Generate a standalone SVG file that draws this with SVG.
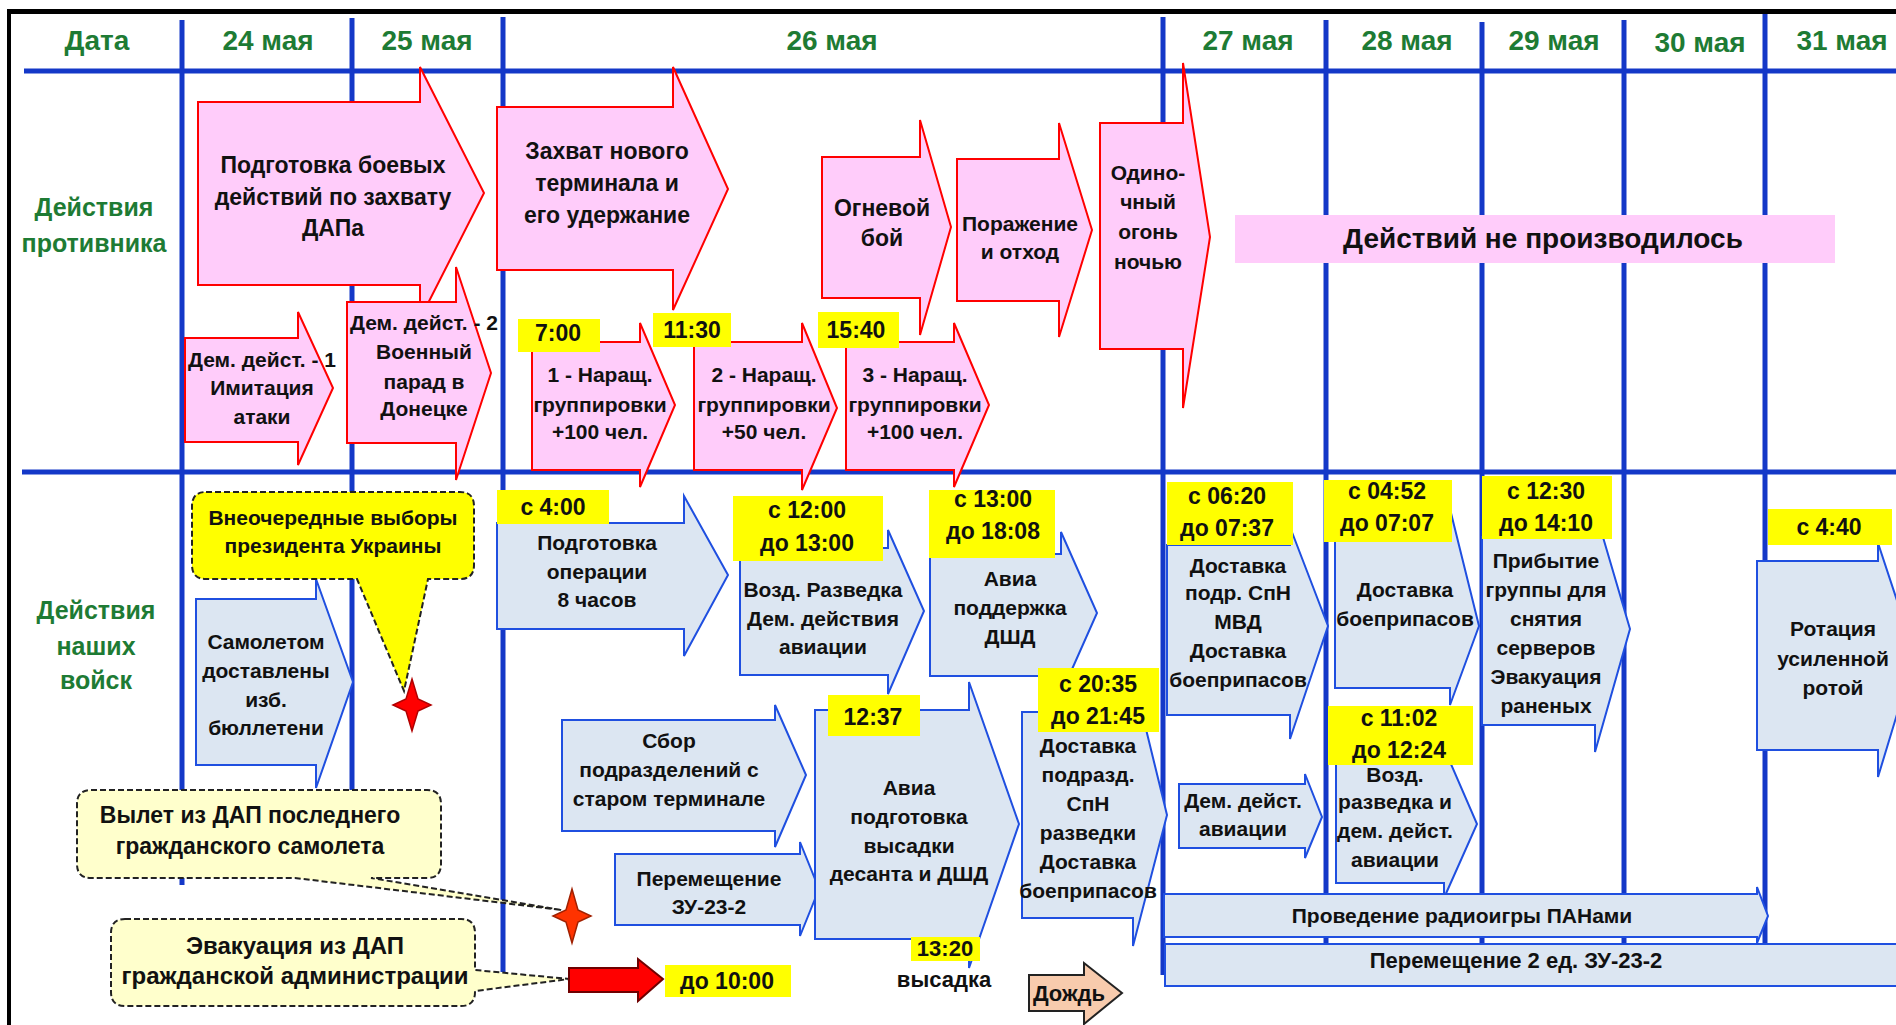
<svg xmlns="http://www.w3.org/2000/svg" width="1896" height="1025" viewBox="0 0 1896 1025">
<style>
.g{stroke:#1438C8;stroke-width:5;fill:none}
.pk{fill:#FFCCFA;stroke:#FF0000;stroke-width:2}
.bl{fill:#DCE6F2;stroke:#1F4FE0;stroke-width:2}
.yl{fill:#FFFF00}
.t{font-family:"Liberation Sans",Arial,sans-serif;font-weight:bold;fill:#111;text-anchor:middle;font-size:21px}
.hd{fill:#1E7B34;font-size:28px}
.rl{fill:#1E7B34;font-size:25px}
.tm{font-size:23px}
.big{font-size:23px}
.co{stroke:#222;stroke-width:2;stroke-dasharray:6 3}
</style>
<rect width="1896" height="1025" fill="#fff"/>
<g id="grid">
<rect x="7" y="9" width="1889" height="5" fill="#000"/>
<rect x="7" y="9" width="4" height="1016" fill="#000"/>
<line class="g" x1="24" y1="71" x2="1896" y2="71"/>
<line class="g" x1="22" y1="472" x2="1896" y2="472"/>
<line class="g" x1="182" y1="20" x2="182" y2="885"/>
<line class="g" x1="352" y1="18" x2="352" y2="885"/>
<line class="g" x1="503" y1="17" x2="503" y2="972"/>
<line class="g" x1="1163" y1="17" x2="1163" y2="975"/>
<line class="g" x1="1326" y1="20" x2="1326" y2="943"/>
<line class="g" x1="1482" y1="22" x2="1482" y2="943"/>
<line class="g" x1="1624" y1="20" x2="1624" y2="943"/>
<line class="g" x1="1765" y1="14" x2="1765" y2="943"/>
</g>
<g id="headers">
<text class="t hd" x="97" y="50">Дата</text>
<text class="t hd" x="268" y="50">24 мая</text>
<text class="t hd" x="427" y="50">25 мая</text>
<text class="t hd" x="832" y="50">26 мая</text>
<text class="t hd" x="1248" y="50">27 мая</text>
<text class="t hd" x="1407" y="50">28 мая</text>
<text class="t hd" x="1554" y="50">29 мая</text>
<text class="t hd" x="1700" y="52">30 мая</text>
<text class="t hd" x="1842" y="50">31 мая</text>
<text class="t rl" x="94" y="216">Действия</text>
<text class="t rl" x="94" y="252">противника</text>
<text class="t rl" x="96" y="619">Действия</text>
<text class="t rl" x="96" y="655">наших</text>
<text class="t rl" x="96" y="689">войск</text>
</g>
<g id="enemy-prep">
<path class="pk" d="M198,102 H420 V67 L484,193 L420,319 V285 H198 Z"/>
<text class="t big" x="333" y="173">Подготовка боевых</text>
<text class="t big" x="333" y="205">действий по захвату</text>
<text class="t big" x="333" y="236">ДАПа</text>
</g>
<g id="enemy-capture">
<path class="pk" d="M497,107 H673 V67 L728,189 L673,310 V270 H497 Z"/>
<text class="t big" x="607" y="159">Захват нового</text>
<text class="t big" x="607" y="191">терминала и</text>
<text class="t big" x="607" y="223">его удержание</text>
</g>
<g id="enemy-fire">
<path class="pk" d="M822,157 H920 V120 L951,227 L920,335 V298 H822 Z"/>
<text class="t big" x="882" y="216">Огневой</text>
<text class="t big" x="882" y="246">бой</text>
</g>
<g id="enemy-retreat">
<path class="pk" d="M957,159 H1059 V123 L1092,230 L1059,337 V301 H957 Z"/>
<text class="t" x="1020" y="231">Поражение</text>
<text class="t" x="1020" y="259">и отход</text>
</g>
<g id="enemy-night">
<path class="pk" d="M1100,123 H1183 V63 L1210,237 L1183,408 V349 H1100 Z"/>
<text class="t" x="1148" y="180">Одино-</text>
<text class="t" x="1148" y="209">чный</text>
<text class="t" x="1148" y="239">огонь</text>
<text class="t" x="1148" y="269">ночью</text>
</g>
<g id="enemy-none">
<rect x="1235" y="215" width="600" height="48" fill="#FFCCFA"/>
<text class="t" style="font-size:28px" x="1543" y="248">Действий не производилось</text>
</g>
<g id="enemy-dem1">
<path class="pk" d="M185,338 H298 V312 L333,388 L298,465 V442 H185 Z"/>
<text class="t" x="262" y="367">Дем. дейст. - 1</text>
<text class="t" x="262" y="395">Имитация</text>
<text class="t" x="262" y="424">атаки</text>
</g>
<g id="enemy-dem2">
<path class="pk" d="M347,302 H456 V267 L491,373 L456,480 V443 H347 Z"/>
<text class="t" x="424" y="330">Дем. дейст. - 2</text>
<text class="t" x="424" y="359">Военный</text>
<text class="t" x="424" y="389">парад в</text>
<text class="t" x="424" y="416">Донецке</text>
</g>
<g id="enemy-build1">
<path class="pk" d="M532,342 H640 V323 L675,405 L640,487 V470 H532 Z"/>
<rect class="yl" x="518" y="319" width="82" height="33"/>
<text class="t tm" x="558" y="341">7:00</text>
<text class="t" x="600" y="382">1 - Наращ.</text>
<text class="t" x="600" y="412">группировки</text>
<text class="t" x="600" y="439">+100 чел.</text>
</g>
<g id="enemy-build2">
<path class="pk" d="M694,342 H802 V323 L837,408 L802,490 V470 H694 Z"/>
<rect class="yl" x="653" y="313" width="78" height="34"/>
<text class="t tm" x="692" y="338">11:30</text>
<text class="t" x="764" y="382">2 - Наращ.</text>
<text class="t" x="764" y="412">группировки</text>
<text class="t" x="764" y="439">+50 чел.</text>
</g>
<g id="enemy-build3">
<path class="pk" d="M846,342 H954 V323 L989,405 L954,487 V470 H846 Z"/>
<rect class="yl" x="818" y="312" width="81" height="36"/>
<text class="t tm" x="856" y="338">15:40</text>
<text class="t" x="915" y="382">3 - Наращ.</text>
<text class="t" x="915" y="412">группировки</text>
<text class="t" x="915" y="439">+100 чел.</text>
</g>
<g id="our-ballots">
<path class="bl" d="M196,599 H316 V579 L353,682 L316,788 V765 H196 Z"/>
<text class="t" x="266" y="649">Самолетом</text>
<text class="t" x="266" y="678">доставлены</text>
<text class="t" x="266" y="707">изб.</text>
<text class="t" x="266" y="735">бюллетени</text>
</g>
<g id="callout-elections">
<path d="M206,492 H460 Q474,492 474,506 V565 Q474,579 460,579 H428 L404,691 L357,579 H206 Q192,579 192,565 V506 Q192,492 206,492 Z" fill="#FFFF00" class="co"/>
<text class="t" x="333" y="525">Внеочередные выборы</text>
<text class="t" x="333" y="553">президента Украины</text>
<path d="M412,679 L418,699 L431,705 L418,711 L412,731 L406,711 L393,705 L406,699 Z" fill="#FF0000" stroke="#B00000" stroke-width="1.5"/>
</g>
<g id="our-prep">
<path class="bl" d="M497,523 H684 V496 L728,575 L684,656 V629 H497 Z"/>
<rect class="yl" x="497" y="490" width="112" height="34"/>
<text class="t tm" x="553" y="515">с 4:00</text>
<text class="t" x="597" y="550">Подготовка</text>
<text class="t" x="597" y="579">операции</text>
<text class="t" x="597" y="607">8 часов</text>
</g>
<g id="our-recon">
<path class="bl" d="M740,548 H888 V530 L924,611 L888,694 V675 H740 Z"/>
<rect class="yl" x="733" y="496" width="150" height="65"/>
<text class="t tm" x="807" y="518">с 12:00</text>
<text class="t tm" x="807" y="551">до 13:00</text>
<text class="t" x="823" y="597">Возд. Разведка</text>
<text class="t" x="823" y="626">Дем. действия</text>
<text class="t" x="823" y="654">авиации</text>
</g>
<g id="our-airsupport">
<path class="bl" d="M930,554 H1061 V532 L1097,613 L1061,694 V676 H930 Z"/>
<rect class="yl" x="929" y="490" width="126" height="68"/>
<text class="t tm" x="993" y="507">с 13:00</text>
<text class="t tm" x="993" y="539">до 18:08</text>
<text class="t" x="1010" y="586">Авиа</text>
<text class="t" x="1010" y="615">поддержка</text>
<text class="t" x="1010" y="644">ДШД</text>
</g>
<g id="our-gather">
<path class="bl" d="M562,720 H775 V705 L806,775 L775,847 V831 H562 Z"/>
<text class="t" x="669" y="748">Сбор</text>
<text class="t" x="669" y="777">подразделений с</text>
<text class="t" x="669" y="806">старом терминале</text>
</g>
<g id="our-zu">
<path class="bl" d="M615,854 H800 V842 L819,889 L800,936 V925 H615 Z"/>
<text class="t" x="709" y="886">Перемещение</text>
<text class="t" x="709" y="914">ЗУ-23-2</text>
</g>
<g id="our-landing">
<path class="bl" d="M815,710 H969 V682 L1019,824 L969,968 V939 H815 Z"/>
<rect class="yl" x="828" y="695" width="92" height="41"/>
<text class="t tm" x="873" y="725">12:37</text>
<text class="t" x="909" y="795">Авиа</text>
<text class="t" x="909" y="824">подготовка</text>
<text class="t" x="909" y="853">высадки</text>
<text class="t" x="909" y="881">десанта и ДШД</text>
<rect class="yl" x="911" y="937" width="69" height="24"/>
<text class="t" style="font-size:22px" x="945" y="956">13:20</text>
<text class="t" style="font-size:22px" x="944" y="987">высадка</text>
</g>
<g id="our-delivery1">
<path class="bl" d="M1022,712 H1133 V676 L1167,815 L1133,946 V918 H1022 Z"/>
<rect class="yl" x="1038" y="668" width="121" height="64"/>
<text class="t tm" x="1098" y="692">с 20:35</text>
<text class="t tm" x="1098" y="724">до 21:45</text>
<text class="t" x="1088" y="753">Доставка</text>
<text class="t" x="1088" y="782">подразд.</text>
<text class="t" x="1088" y="811">СпН</text>
<text class="t" x="1088" y="840">разведки</text>
<text class="t" x="1088" y="869">Доставка</text>
<text class="t" x="1088" y="898">боеприпасов</text>
</g>
<g id="our-delivery2">
<path class="bl" d="M1167,545 H1290 V527 L1328,626 L1290,739 V715 H1167 Z"/>
<rect class="yl" x="1167" y="482" width="126" height="63"/>
<text class="t tm" x="1227" y="504">с 06:20</text>
<text class="t tm" x="1227" y="536">до 07:37</text>
<text class="t" x="1238" y="573">Доставка</text>
<text class="t" x="1238" y="600">подр. СпН</text>
<text class="t" x="1238" y="629">МВД</text>
<text class="t" x="1238" y="658">Доставка</text>
<text class="t" x="1238" y="687">боеприпасов</text>
</g>
<g id="our-delivery3">
<path class="bl" d="M1335,541 H1450 V509 L1479,626 L1450,705 V688 H1335 Z"/>
<rect class="yl" x="1324" y="480" width="128" height="62"/>
<text class="t tm" x="1387" y="499">с 04:52</text>
<text class="t tm" x="1387" y="531">до 07:07</text>
<text class="t" x="1405" y="597">Доставка</text>
<text class="t" x="1405" y="626">боеприпасов</text>
</g>
<g id="our-servers">
<path class="bl" d="M1482,537 H1595 V510 L1630,629 L1595,752 V725 H1482 Z"/>
<rect class="yl" x="1482" y="476" width="130" height="63"/>
<text class="t tm" x="1546" y="499">с 12:30</text>
<text class="t tm" x="1546" y="531">до 14:10</text>
<text class="t" x="1546" y="568">Прибытие</text>
<text class="t" x="1546" y="597">группы для</text>
<text class="t" x="1546" y="626">снятия</text>
<text class="t" x="1546" y="655">серверов</text>
<text class="t" x="1546" y="684">Эвакуация</text>
<text class="t" x="1546" y="713">раненых</text>
</g>
<g id="our-demair">
<path class="bl" d="M1179,784 H1305 V774 L1322,817 L1305,858 V848 H1179 Z"/>
<text class="t" x="1243" y="808">Дем. дейст.</text>
<text class="t" x="1243" y="836">авиации</text>
</g>
<g id="our-recon2">
<path class="bl" d="M1336,764 H1444 V748 L1477,824 L1444,898 V883 H1336 Z"/>
<rect class="yl" x="1328" y="706" width="145" height="59"/>
<text class="t tm" x="1399" y="726">с 11:02</text>
<text class="t tm" x="1399" y="758">до 12:24</text>
<text class="t" x="1395" y="782">Возд.</text>
<text class="t" x="1395" y="809">разведка и</text>
<text class="t" x="1395" y="838">дем. дейст.</text>
<text class="t" x="1395" y="867">авиации</text>
</g>
<g id="our-rotation">
<path class="bl" d="M1757,561 H1878 V543 L1915,655 L1878,777 V750 H1757 Z"/>
<rect class="yl" x="1768" y="509" width="124" height="36"/>
<text class="t tm" x="1829" y="535">с 4:40</text>
<text class="t" x="1833" y="636">Ротация</text>
<text class="t" x="1833" y="666">усиленной</text>
<text class="t" x="1833" y="695">ротой</text>
</g>
<g id="our-radio">
<path class="bl" d="M1164,894 H1757 V887 L1768,916 L1757,943 V937 H1164 Z"/>
<text class="t" x="1462" y="923">Проведение радиоигры ПАНами</text>
</g>
<g id="our-zu2">
<rect class="bl" x="1165" y="944" width="740" height="42"/>
<text class="t" style="font-size:22px" x="1516" y="968">Перемещение 2 ед. ЗУ-23-2</text>
</g>
<g id="callout-lastflight">
<path d="M91,790 H427 Q441,790 441,804 V864 Q441,878 427,878 H371 L562,910 L295,878 H91 Q77,878 77,864 V804 Q77,790 91,790 Z" fill="#FFFFCC" class="co"/>
<text class="t" style="font-size:23px" x="250" y="823">Вылет из ДАП последнего</text>
<text class="t" style="font-size:23px" x="250" y="854">гражданского самолета</text>
<path d="M572,889 L578,910 L591,916 L578,922 L572,943 L566,922 L553,916 L566,910 Z" fill="#FF3300" stroke="#A02000" stroke-width="1.5"/>
</g>
<g id="callout-evac">
<path d="M125,919 H461 Q475,919 475,933 V970 L569,979 L475,991 V992 Q475,1006 461,1006 H125 Q111,1006 111,992 V933 Q111,919 125,919 Z" fill="#FFFFCC" class="co"/>
<text class="t" style="font-size:24px" x="295" y="954">Эвакуация из ДАП</text>
<text class="t" style="font-size:24px" x="295" y="984">гражданской администрации</text>
<path d="M569,968 H638 V959 L663,979 L638,1001 V992 H569 Z" fill="#FF0000" stroke="#700000" stroke-width="2"/>
<rect class="yl" x="665" y="965" width="126" height="32"/>
<text class="t tm" x="727" y="989">до 10:00</text>
</g>
<g id="rain">
<path d="M1029,975 H1084 V963 L1122,993 L1084,1024 V1011 H1029 Z" fill="#F8CBAD" stroke="#222" stroke-width="2"/>
<text class="t" style="font-size:22px" x="1069" y="1001">Дождь</text>
</g>
<g id="connectors"/>
</svg>
